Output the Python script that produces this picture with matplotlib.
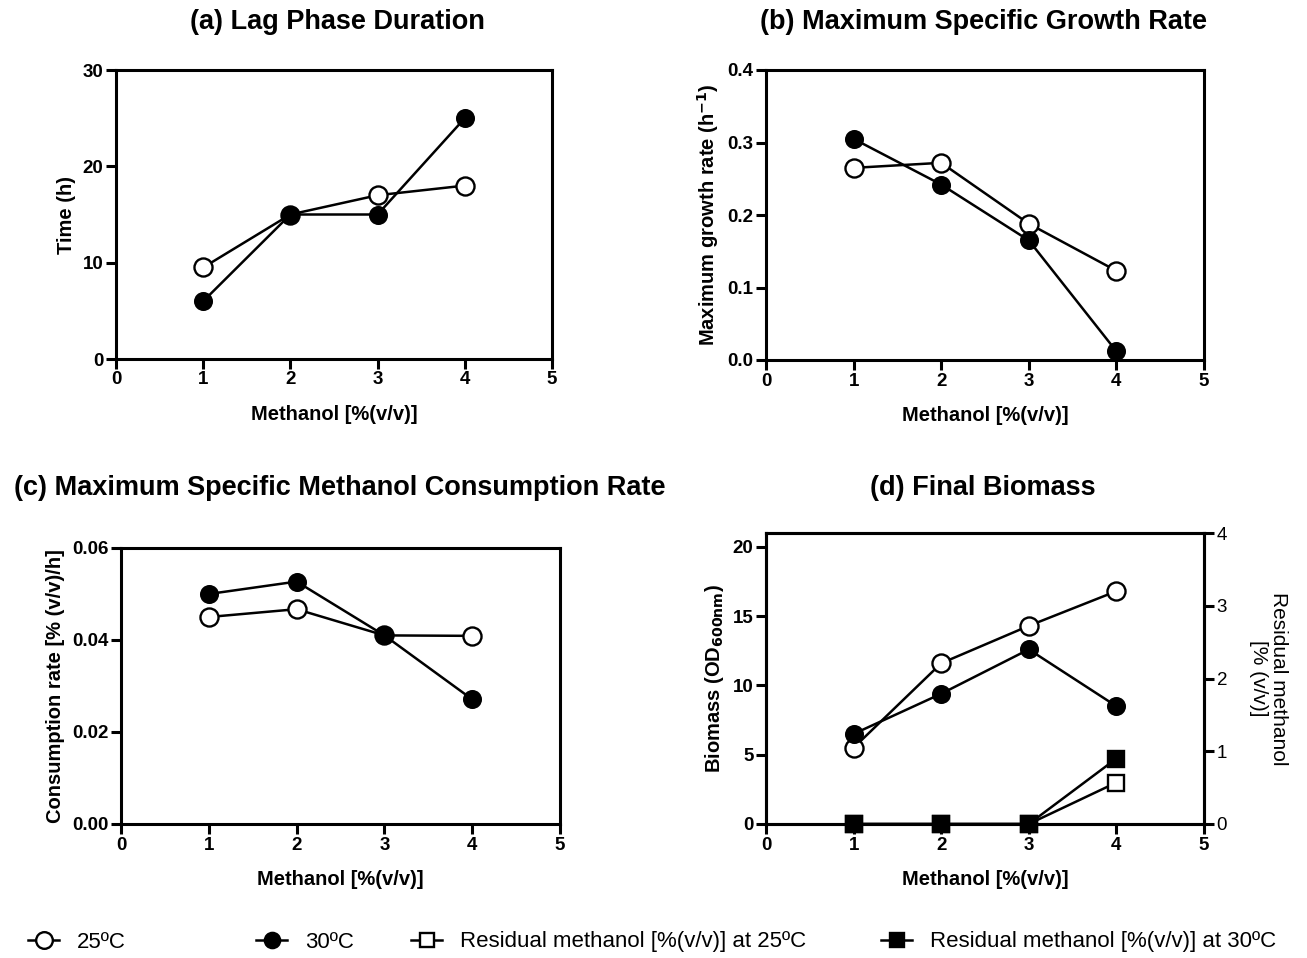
import matplotlib
matplotlib.use("Agg")
import matplotlib.pyplot as plt
from matplotlib.lines import Line2D

plt.rcParams['font.family'] = ['Liberation Sans', 'DejaVu Sans']

methanol = [1, 2, 3, 4]
lag_25 = [9.5, 15.0, 17.0, 18.0]
lag_30 = [6.0, 15.0, 15.0, 25.0]
mu_25 = [0.265, 0.272, 0.188, 0.123]
mu_30 = [0.305, 0.242, 0.165, 0.012]
cons_25 = [0.0450, 0.0467, 0.0410, 0.0409]
cons_30 = [0.0500, 0.0527, 0.0410, 0.0271]
bio_25 = [5.5, 11.6, 14.3, 16.8]
bio_30 = [6.5, 9.4, 12.6, 8.5]
res_25 = [0.0, 0.0, 0.0, 0.57]
res_30 = [0.0, 0.0, 0.0, 0.90]

x_ticks = [0, 1, 2, 3, 4, 5]
lag_ticks = [0, 10, 20, 30]
mu_ticks = [0.0, 0.1, 0.2, 0.3, 0.4]
cons_ticks = [0.00, 0.02, 0.04, 0.06]
bio_ticks = [0, 5, 10, 15, 20]
res_ticks = [0, 1, 2, 3, 4]

W, H = 1307, 958
fig = plt.figure(figsize=(W / 100, H / 100), dpi=100)

def ax_at(l, r, t, b):
    return fig.add_axes([l / W, 1 - b / H, (r - l) / W, (b - t) / H])

LW = 1.8
MS = 13
TICK_FS = 13.5
LAB_FS = 14.5
TITLE_FS = 19.5
open_c = dict(marker='o', mfc='white', mec='black', mew=1.7, ms=MS, color='black', lw=LW, clip_on=False)
fill_c = dict(marker='o', mfc='black', mec='black', mew=1.7, ms=MS - 1, color='black', lw=LW, clip_on=False)

def style(ax, xlabel, ylabel, yticks, yfmt):
    ax.set_xlim(0, 5)
    ax.set_xticks(x_ticks)
    ax.set_yticks(yticks)
    ax.set_yticklabels([yfmt.format(v) for v in yticks])
    for s in ax.spines.values():
        s.set_linewidth(2.2)
    ax.tick_params(width=2.2, length=7, labelsize=TICK_FS, direction='out', pad=2)
    for lab in ax.get_xticklabels() + ax.get_yticklabels():
        lab.set_fontweight('bold')
    ax.set_xlabel(xlabel, fontsize=LAB_FS, fontweight='bold', labelpad=12)
    ax.set_ylabel(ylabel, fontsize=LAB_FS, fontweight='bold', labelpad=5)

# (a)
ax = ax_at(116, 552, 70, 359)
ax.plot(methanol, lag_25, **open_c, zorder=3)
ax.plot(methanol, lag_30, **fill_c, zorder=4)
ax.set_ylim(0, 30)
style(ax, 'Methanol [%(v/v)]', 'Time (h)', lag_ticks, '{:d}')
fig.text(337 / W, 1 - 22 / H, '(a) Lag Phase Duration', ha='center', va='center', fontsize=TITLE_FS, fontweight='bold')

# (b)
ax = ax_at(766, 1204, 70, 360)
ax.plot(methanol, mu_25, **open_c, zorder=3)
ax.plot(methanol, mu_30, **fill_c, zorder=4)
ax.set_ylim(0, 0.4)
style(ax, 'Methanol [%(v/v)]', 'Maximum growth rate (h$^{\\mathbf{-1}}$)', mu_ticks, '{:.1f}')
fig.text(983 / W, 1 - 22 / H, '(b) Maximum Specific Growth Rate', ha='center', va='center', fontsize=TITLE_FS, fontweight='bold')

# (c)
ax = ax_at(121, 560, 548, 824)
ax.plot(methanol, cons_25, **open_c, zorder=3)
ax.plot(methanol, cons_30, **fill_c, zorder=4)
ax.set_ylim(0, 0.06)
style(ax, 'Methanol [%(v/v)]', 'Consumption rate [% (v/v)/h]', cons_ticks, '{:.2f}')
fig.text(340 / W, 1 - 488 / H, '(c) Maximum Specific Methanol Consumption Rate', ha='center', va='center', fontsize=TITLE_FS, fontweight='bold')

# (d)
ax = ax_at(766, 1204, 533, 824)
ax2 = ax.twinx()
ax.plot(methanol, bio_25, **open_c, zorder=3)
ax.plot(methanol, bio_30, **fill_c, zorder=4)
ax.set_ylim(0, 21)
style(ax, 'Methanol [%(v/v)]', 'Biomass (OD$_{\\mathbf{600nm}}$)', bio_ticks, '{:d}')
ax2.plot(methanol, res_25, marker='s', mfc='white', mec='black', mew=1.7, ms=11, color='black', lw=LW, clip_on=False, zorder=3)
ax2.plot(methanol, res_30, marker='s', mfc='black', mec='black', mew=1.7, ms=11, color='black', lw=LW, clip_on=False, zorder=4)
ax2.set_ylim(0, 4)
ax2.set_yticks(res_ticks)
for s in ax2.spines.values():
    s.set_linewidth(2.2)
ax2.tick_params(width=2.2, length=7, labelsize=TICK_FS, pad=2)
ax2.set_ylabel('Residual methanol\n[% (v/v)]', fontsize=15, rotation=270, labelpad=44, linespacing=1.1)
fig.text(983 / W, 1 - 488 / H, '(d) Final Biomass', ha='center', va='center', fontsize=TITLE_FS, fontweight='bold')

# legend
entries = [
    (dict(marker='o', mfc='white', mec='black', mew=1.7, ms=12, color='black', lw=LW), '25ºC', 28),
    (dict(marker='o', mfc='black', mec='black', mew=1.7, ms=11, color='black', lw=LW), '30ºC', 256),
    (dict(marker='s', mfc='white', mec='black', mew=1.7, ms=10, color='black', lw=LW), 'Residual methanol [%(v/v)] at 25ºC', 411),
    (dict(marker='s', mfc='black', mec='black', mew=1.7, ms=10, color='black', lw=LW), 'Residual methanol [%(v/v)] at 30ºC', 881),
]
for kw, label, xpos in entries:
    h = Line2D([0], [0], **kw)
    fig.legend([h], [label], loc='center left', bbox_to_anchor=(xpos / W, 1 - 942 / H),
               frameon=False, fontsize=16, handlelength=1.4, handletextpad=0.8, borderpad=0, borderaxespad=0)

fig.savefig('out.png', dpi=100, facecolor='white')
